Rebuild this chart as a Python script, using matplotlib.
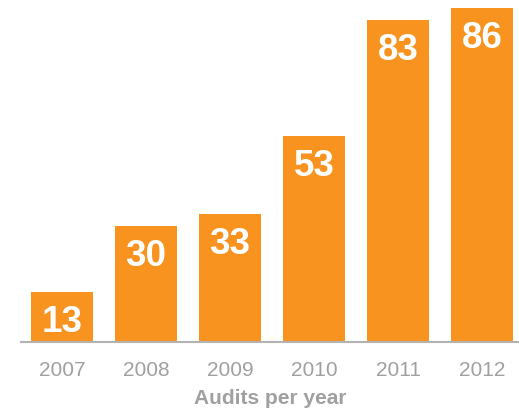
import matplotlib
matplotlib.use('Agg')
import matplotlib.pyplot as plt

years = ['2007', '2008', '2009', '2010', '2011', '2012']
audits = [13, 30, 33, 53, 83, 86]

plt.rcParams['font.family'] = ['Liberation Sans', 'DejaVu Sans']

fig = plt.figure(figsize=(5.19, 4.12), dpi=100)
ax = fig.add_axes([21 / 519, 70 / 412, 498 / 519, 342 / 412])

x = list(range(len(years)))
ax.bar(x, audits, width=0.73, color='#F7931E', zorder=2)

for xi, v in zip(x, audits):
    ax.annotate(str(v), (xi, v), xytext=(0, -9.5), textcoords='offset points',
                ha='center', va='top', color='white', fontsize=26.5, fontweight='bold')

ax.set_xlim(-0.488, 5.44)
ax.set_ylim(0, 88.1)
ax.set_xticks(x)
ax.set_xticklabels(years, color='#A0A0A0', fontsize=15)
ax.tick_params(axis='x', length=0, pad=14)
ax.set_yticks([])
for s in ['top', 'right', 'left']:
    ax.spines[s].set_visible(False)
ax.spines['bottom'].set_color('#B3B3B3')
ax.spines['bottom'].set_linewidth(1.5)
ax.set_xlabel('Audits per year', color='#A0A0A0', fontsize=15, fontweight='bold', labelpad=6)

fig.savefig('out.png', dpi=100)
